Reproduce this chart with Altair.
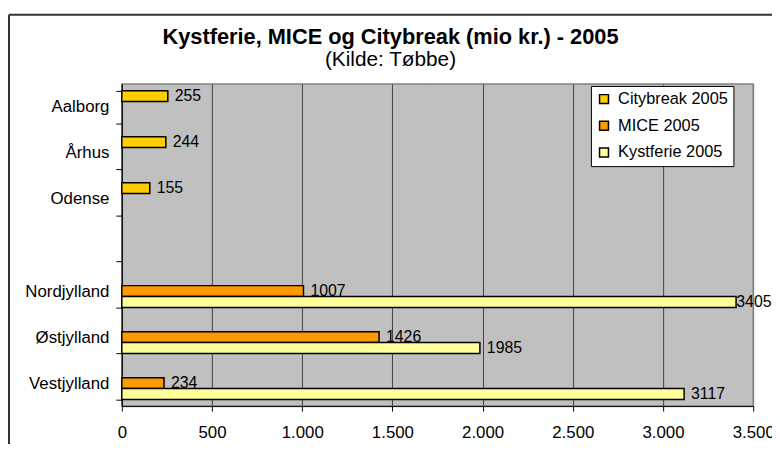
import altair as alt
import pandas as pd

# ---- data ----
categories = ["Aalborg", "Århus", "Odense", " ", "Nordjylland", "Østjylland", "Vestjylland"]
series = ["Citybreak 2005", "MICE 2005", "Kystferie 2005"]
colors = ["#FFCC00", "#FF9900", "#FFFF99"]

citybreak_places = ["Aalborg", "Århus", "Odense"]
citybreak_values = [255, 244, 155]

region_places = ["Nordjylland", "Østjylland", "Vestjylland"]
mice_values = [1007, 1426, 234]
kystferie_values = [3405, 1985, 3117]

x_ticks = [0, 500, 1000, 1500, 2000, 2500, 3000, 3500]

rows = []
for p, v in zip(citybreak_places, citybreak_values):
    rows.append({"place": p, "series": series[0], "value": v})
for p, v in zip(region_places, mice_values):
    rows.append({"place": p, "series": series[1], "value": v})
for p, v in zip(region_places, kystferie_values):
    rows.append({"place": p, "series": series[2], "value": v})
df = pd.DataFrame(rows)

FONT = "Liberation Sans"
W, H = 638, 325.5

y_enc = alt.Y(
    "place:N",
    scale=alt.Scale(domain=categories, paddingInner=0.29, paddingOuter=0.145),
    axis=alt.Axis(
        title=None, tickBand="extent", ticks=True, tickSize=6, tickColor="black",
        domainColor="black", labelFontSize=17, labelFont=FONT, labelColor="black",
        labelPadding=7, grid=False,
    ),
)
yoff_enc = alt.YOffset("series:N", scale=alt.Scale(domain=series, paddingInner=0, paddingOuter=0))
x_scale = alt.Scale(domain=[0, 3500], nice=False, zero=True)
x_enc = alt.X(
    "value:Q",
    scale=x_scale,
    axis=alt.Axis(
        title=None, values=x_ticks,
        labelExpr="replace(format(datum.value, ','), ',', '.')",
        labelFlush=False, labelOverlap=False,
        grid=True,
        gridColor={"condition": {"test": "datum.value >= 3500", "value": "#808080"}, "value": "#404040"},
        gridWidth=1, tickSize=5, tickColor="black", domainColor="black",
        labelFontSize=17, labelFont=FONT, labelColor="black", labelPadding=14,
    ),
)

base = alt.Chart(df)

# labels kept inside the chart area (as the spreadsheet does)
labels = base.transform_calculate(
    lx="min(datum.value, 3368)"
).mark_text(
    align="left", baseline="middle", dx=7, fontSize=16, font=FONT, color="black"
).encode(
    y=y_enc, yOffset=yoff_enc,
    x=alt.X("lx:Q", scale=x_scale),
    text=alt.Text("value:Q", format="d"),
)

bars = base.mark_bar(stroke="black", strokeWidth=1.5).encode(
    y=y_enc,
    yOffset=yoff_enc,
    x=x_enc,
    color=alt.Color(
        "series:N",
        scale=alt.Scale(domain=series, range=colors),
        legend=alt.Legend(
            title=None, orient="none", legendX=474, legendY=2,
            symbolType="square", symbolSize=81, symbolStrokeColor="black",
            symbolStrokeWidth=1.5, labelFontSize=16.5, labelFont=FONT,
            labelColor="black", rowPadding=10, padding=5, labelOffset=6,
            strokeColor="black", fillColor="white",
        ),
    ),
)

frame_data = alt.Data(values=[{"k": 1}])
frame_top = alt.Chart(frame_data).mark_rule(color="#333333", strokeWidth=2).encode(
    x=alt.value(-114), x2=alt.value(W + 200), y=alt.value(-70)
)
frame_left = alt.Chart(frame_data).mark_rule(color="#333333", strokeWidth=2).encode(
    x=alt.value(-114), y=alt.value(-70), y2=alt.value(H + 100)
)

chart = alt.layer(labels, bars, frame_top, frame_left).properties(
    width=W,
    height=H,
    padding={"left": 115, "top": 74.5, "right": 19, "bottom": 36},
    autosize=alt.AutoSizeParams(type="none"),
    background="white",
    title=alt.TitleParams(
        text="Kystferie, MICE og Citybreak (mio kr.) - 2005",
        subtitle="(Kilde: Tøbbe)",
        font=FONT, fontSize=22, fontWeight="bold", color="black",
        subtitleFont=FONT, subtitleFontSize=21, subtitleColor="black",
        anchor="middle", dx=-47.5, offset=-58, subtitlePadding=0,
    ),
).configure_view(
    fill="#C0C0C0", stroke="#808080", strokeWidth=1.5
)

chart.save("out.html", embed_options={"renderer": "svg", "actions": False})
